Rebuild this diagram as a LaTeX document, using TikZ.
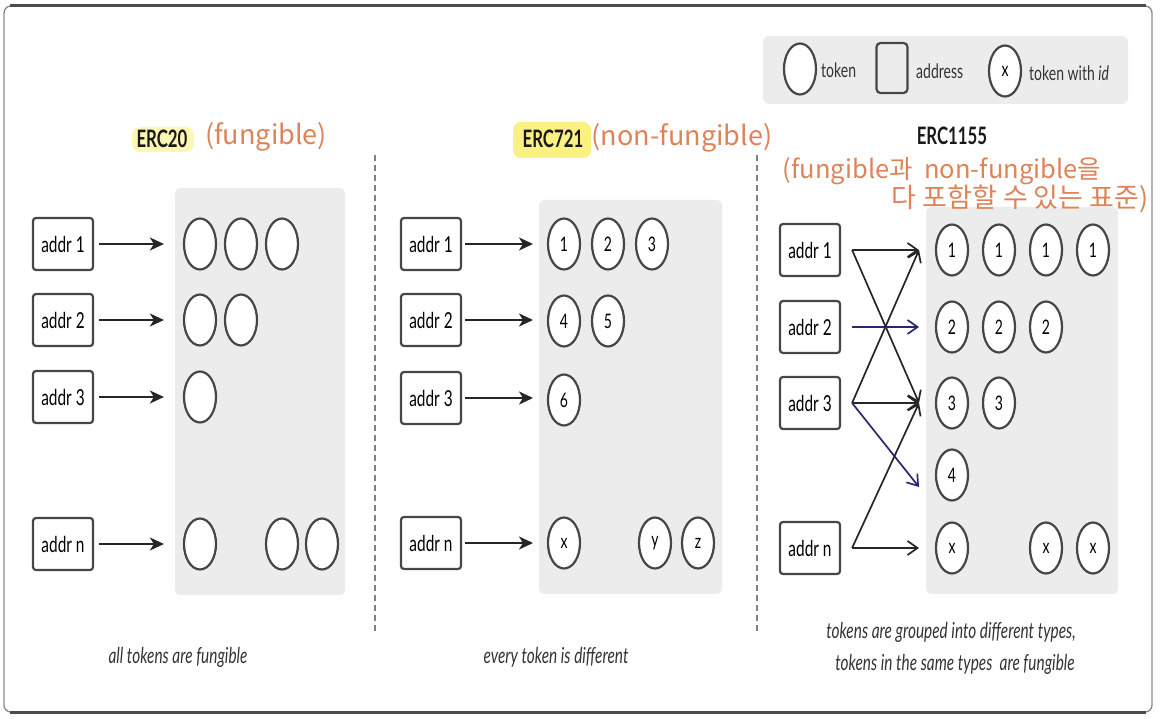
\documentclass[tikz,border=0pt]{standalone}
\usepackage{fontspec}
\setmainfont{Lato}[FakeStretch=0.7]
\newfontfamily\kr{Noto Sans CJK KR}
\usetikzlibrary{shapes.geometric,arrows.meta}
\definecolor{panelgray}{RGB}{236,236,236}
\definecolor{edge}{RGB}{70,70,70}
\definecolor{hand}{RGB}{222,130,88}
\definecolor{navy}{RGB}{40,40,110}
\definecolor{hl}{RGB}{250,236,90}
\begin{document}
\begin{tikzpicture}[x=1pt,y=-1pt,
  addrbox/.style={draw=edge,line width=2.2pt,rounded corners=3pt,minimum width=60pt,minimum height=52pt,inner sep=0pt,font=\fontsize{22}{23}\selectfont},
  tok/.style={ellipse,draw=edge,line width=2.2pt,fill=white,minimum width=32pt,minimum height=51pt,inner sep=0pt,font=\fontsize{20}{21}\selectfont},
  panel/.style={fill=panelgray,rounded corners=5pt},
  sep/.style={draw=gray,line width=1.2pt,dash pattern=on 6pt off 4pt},
  link/.style={line width=2pt,draw=black!85,-{Stealth[length=14pt,width=13pt,inset=4pt]}},
  xlink/.style={line width=1.7pt,draw=black!85,-{Straight Barb[length=10pt,width=14pt]}},
  nlink/.style={xlink,draw=navy},
  title/.style={font=\bfseries\fontsize{24}{25}\selectfont,text=black!90},
  handtxt/.style={text=hand,font=\kr\fontsize{27}{29}\selectfont,inner sep=0pt},
  caption/.style={font=\itshape\fontsize{22}{24}\selectfont,text=black!80},
  legtxt/.style={font=\fontsize{20}{22}\selectfont,text=black!80,anchor=west,inner sep=0pt}]
\useasboundingbox (0,0) rectangle (1160,719);
% outer frame
\draw[draw=black!45,line width=1.4pt,rounded corners=7pt] (4,6) rectangle (1152,712);
\draw[draw=black!70,line width=3pt] (10,6) -- (1146,6);
\draw[draw=black!70,line width=3pt] (10,712) -- (1146,712);

% legend
\fill[panelgray,rounded corners=6pt] (763,36) rectangle (1128,104);
\node[tok] (lgtok) at (800,69) {};
\node[legtxt] (lgtoktxt) at (821,70) {token};
\node[draw=edge,line width=2.2pt,rounded corners=4pt,minimum width=31pt,minimum height=50pt,inner sep=0pt] (lgaddr) at (892,68) {};
\node[legtxt] (lgaddrtxt) at (916,71) {address};
\node[tok] (lgid) at (1005,71) {x};
\node[legtxt] (lgidtxt) at (1029,73) {token with \textit{id}};

% separators
\draw[sep] (375,155) -- (375,632);
\draw[sep] (757,155) -- (757,632);

% panels
\fill[panel] (175,188) rectangle (345,595);
\fill[panel] (539,200) rectangle (722,594);
\fill[panel] (926,207) rectangle (1118,594);

% titles
\fill[hl,opacity=0.45,rounded corners=8pt] (132,127) rectangle (194,152);
\node[title] (t20) at (162,139) {ERC20};
\node[handtxt] (h20) at (266,137) {(fungible)};
\fill[hl,opacity=0.75,rounded corners=8pt] (513,122) rectangle (591,158);
\node[title] (t721) at (553,139) {ERC721};
\node[handtxt] (h721) at (682,138) {(non-fungible)};
\node[title] (t1155) at (952,136) {ERC1155};
\node[handtxt,font=\kr\fontsize{25.5}{28}\selectfont] (h1155a) at (942,171) {(fungible과\ \ non-fungible을};
\node[handtxt] (h1155b) at (1020,199) {다 포함할 수 있는 표준)};

% ---------- ERC20 ----------
\node[addrbox] (a1) at (63,244) {addr 1};
\node[addrbox] (a2) at (63,320) {addr 2};
\node[addrbox] (a3) at (63,397) {addr 3};
\node[addrbox] (an) at (63,544) {addr n};
\node[tok] (f11) at (200,244) {};
\node[tok] (f12) at (241,244) {};
\node[tok] (f13) at (282,244) {};
\node[tok] (f21) at (200,320) {};
\node[tok] (f22) at (241,320) {};
\node[tok] (f31) at (200,397) {};
\node[tok] (fn1) at (200,544) {};
\node[tok] (fn2) at (282,544) {};
\node[tok] (fn3) at (322,544) {};
\draw[link,shorten <=5pt,shorten >=19pt] (a1) -- (f11);
\draw[link,shorten <=5pt,shorten >=19pt] (a2) -- (f21);
\draw[link,shorten <=5pt,shorten >=19pt] (a3) -- (f31);
\draw[link,shorten <=5pt,shorten >=19pt] (an) -- (fn1);
\node[caption] (c20) at (178,657) {all tokens are fungible};

% ---------- ERC721 ----------
\node[addrbox] (b1) at (431,244) {addr 1};
\node[addrbox] (b2) at (431,320) {addr 2};
\node[addrbox] (b3) at (431,398) {addr 3};
\node[addrbox] (bn) at (431,543) {addr n};
\node[tok] (n11) at (564,244) {1};
\node[tok] (n12) at (608,244) {2};
\node[tok] (n13) at (652,244) {3};
\node[tok] (n21) at (564,321) {4};
\node[tok] (n22) at (608,321) {5};
\node[tok] (n31) at (564,400) {6};
\node[tok] (nn1) at (564,543) {x};
\node[tok] (nn2) at (655,543) {y};
\node[tok] (nn3) at (698,543) {z};
\coordinate (m1) at (533,244);
\coordinate (m2) at (533,320);
\coordinate (m3) at (533,398);
\coordinate (mn) at (533,543);
\draw[link,shorten <=3pt] (b1) -- (m1);
\draw[link,shorten <=3pt] (b2) -- (m2);
\draw[link,shorten <=3pt] (b3) -- (m3);
\draw[link,shorten <=3pt] (bn) -- (mn);
\node[caption] (c721) at (556,657) {every token is different};

% ---------- ERC1155 ----------
\node[addrbox] (d1) at (810,250) {addr 1};
\node[addrbox] (d2) at (810,327) {addr 2};
\node[addrbox] (d3) at (810,403) {addr 3};
\node[addrbox] (dn) at (810,548) {addr n};
\node[tok] (s11) at (952,250) {1};
\node[tok] (s12) at (999,250) {1};
\node[tok] (s13) at (1046,250) {1};
\node[tok] (s14) at (1093,250) {1};
\node[tok] (s21) at (952,327) {2};
\node[tok] (s22) at (999,327) {2};
\node[tok] (s23) at (1046,327) {2};
\node[tok] (s31) at (952,403) {3};
\node[tok] (s32) at (999,403) {3};
\node[tok] (s41) at (952,475) {4};
\node[tok] (sn1) at (952,548) {x};
\node[tok] (sn2) at (1046,548) {x};
\node[tok] (sn3) at (1093,548) {x};
\coordinate (e1) at (919,250);
\coordinate (e2) at (919,327);
\coordinate (e3) at (919,403);
\coordinate (e4) at (919,487);
\coordinate (e5) at (919,548);
\draw[xlink,shorten <=11pt] (d1.east) -- (e1);
\draw[xlink] ([xshift=11pt]d1.east) -- (e3);
\draw[nlink,shorten <=11pt] (d2.east) -- (e2);
\draw[xlink] ([xshift=11pt]d3.east) -- (e1);
\draw[xlink,shorten <=11pt] (d3.east) -- (e3);
\draw[nlink] ([xshift=11pt]d3.east) -- (e4);
\draw[xlink] ([xshift=11pt]dn.east) -- (e3);
\draw[xlink,shorten <=11pt] (dn.east) -- (e5);
\node[caption] (c1155a) at (951,632) {tokens are grouped into different types,};
\node[caption] (c1155b) at (955,664) {tokens in the same types\ \ are fungible};
\end{tikzpicture}
\end{document}
